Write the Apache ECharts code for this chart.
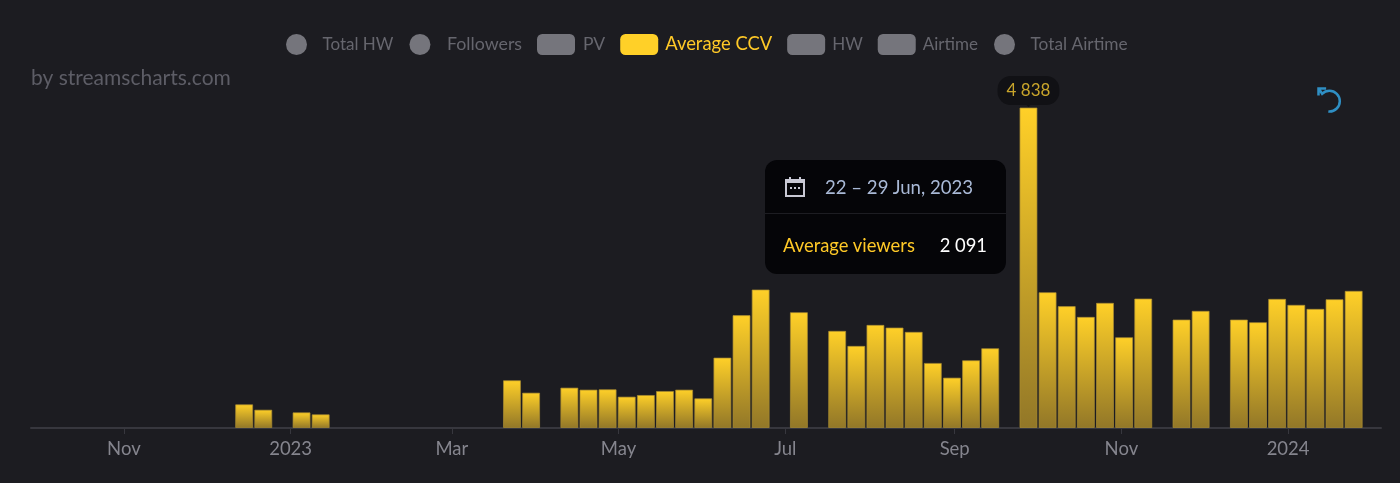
<!DOCTYPE html>
<html>
<head>
<meta charset="utf-8">
<title>Average CCV</title>
<script src="https://cdn.jsdelivr.net/npm/echarts@6/dist/echarts.min.js"></script>
<style>
    html, body { margin: 0; padding: 0; background: #1c1c21; }
    #chart { width: 1400px; height: 483px; }
    .tip { width: 241px; height: 114px; font-family: Lato, sans-serif; }
    .tip-date { height: 53px; display: flex; align-items: center; padding-left: 20px; color: #a9b9d6; font-size: 18.6px; border-bottom: 1px solid #1d1d22; }
    .tip-date svg { margin-right: 20px; }
    .tip-date span, .tip-row span { position: relative; top: 1px; }
    .tip-row { height: 60px; display: flex; align-items: center; justify-content: space-between; padding: 0 19px 0 18px; font-size: 18.4px; }
    .tip-name { color: #ffc927; }
    .tip-value { color: #fff; }
</style>
</head>
<body>
<div id="chart"></div>
<script>
    // one bar per week, labelled by the day the week starts
    var weekStarts = [
        "2022-12-15", "2022-12-22", "2023-01-05", "2023-01-12", "2023-03-23", "2023-03-30",
        "2023-04-13", "2023-04-20", "2023-04-27", "2023-05-04", "2023-05-11", "2023-05-18",
        "2023-05-25", "2023-06-01", "2023-06-08", "2023-06-15", "2023-06-22", "2023-07-06",
        "2023-07-20", "2023-07-27", "2023-08-03", "2023-08-10", "2023-08-17", "2023-08-24",
        "2023-08-31", "2023-09-07", "2023-09-14", "2023-09-28", "2023-10-05", "2023-10-12",
        "2023-10-19", "2023-10-26", "2023-11-02", "2023-11-09", "2023-11-23", "2023-11-30",
        "2023-12-14", "2023-12-21", "2023-12-28", "2024-01-04", "2024-01-11", "2024-01-18",
        "2024-01-25"
    ];
    var averageCcv = [
        358, 277, 237, 207, 721, 534,
        610, 580, 585, 474, 499, 559,
        580, 449, 1063, 1704, 2091, 1749,
        1467, 1240, 1557, 1517, 1452, 983,
        761, 1023, 1205, 4838, 2051, 1840,
        1678, 1890, 1371, 1955, 1638, 1769,
        1638, 1598, 1950, 1860, 1799, 1945,
        2071
    ];
    var tickDates = ["2022-11-01", "2023-01-01", "2023-03-01", "2023-05-01", "2023-07-01", "2023-09-01", "2023-11-01", "2024-01-01"];
    var tickLabels = ["Nov", "2023", "Mar", "May", "Jul", "Sep", "Nov", "2024"];
    var monthNames = ["Jan", "Feb", "Mar", "Apr", "May", "Jun", "Jul", "Aug", "Sep", "Oct", "Nov", "Dec"];
    var tipWeek = "2023-06-22";

    var FONT = "Lato, sans-serif";
    var DAY = 86400000;

    function toTime(s) {
        var p = s.split("-");
        return Date.UTC(+p[0], +p[1] - 1, +p[2]);
    }

    function spaced(n) {
        return String(n).replace(/\B(?=(\d{3})+$)/g, " ");
    }

    function weekRange(t) {
        var a = new Date(t);
        var b = new Date(t + 7 * DAY);
        return a.getUTCDate() + " – " + b.getUTCDate() + " " + monthNames[b.getUTCMonth()] + ", " + b.getUTCFullYear();
    }

    var tickTimes = tickDates.map(toTime);
    var calendarIcon = '<svg width="20" height="20" viewBox="0 0 20 20"><path fill="#c9c9d4" d="M0 2h4V0h2v2h8V0h2v2h4v18H0z"/><rect x="2" y="6" width="16" height="12" fill="#050508"/><rect x="5" y="10" width="2" height="2" fill="#c9c9d4"/><rect x="9" y="10" width="2" height="2" fill="#c9c9d4"/><rect x="13" y="10" width="2" height="2" fill="#c9c9d4"/></svg>';

    function legendItem(name, icon, color, textColor, textGap, fontSize) {
        return {
            name: name,
            icon: icon,
            itemStyle: { color: color, borderWidth: 0 },
            textStyle: { color: textColor, fontSize: fontSize, padding: [0, 0, 0, textGap] }
        };
    }

    function emptySeries(name) {
        return { name: name, type: "line", data: [] };
    }

    var legendBase = {
        top: 29,
        itemWidth: 38,
        itemHeight: 21,
        textStyle: { fontFamily: FONT, fontSize: 18 },
        selectedMode: false
    };

    var myChart = echarts.init(document.getElementById("chart"));
    var option = {
        animation: false,
        backgroundColor: "#1c1c21",
        title: {
            text: "by streamscharts.com",
            left: 31 - 5,
            top: 63,
            textStyle: { color: "#5d5d66", fontFamily: FONT, fontSize: 21, fontWeight: "normal" }
        },
        legend: [
            Object.assign({}, legendBase, {
                left: 281,
                itemGap: 16,
                data: [
                    legendItem("Total HW", "circle", "#75757c", "#66666e", 2, 17),
                    legendItem("Followers", "circle", "#75757c", "#66666e", 3, 17.8)
                ]
            }),
            Object.assign({}, legendBase, {
                left: 532,
                itemGap: 15,
                data: [
                    legendItem("PV", "roundRect", "#75757c", "#66666e", 3, 17.5),
                    legendItem("Average CCV", "roundRect", "#ffd028", "#ffc927", 2, 18.4),
                    legendItem("HW", "roundRect", "#75757c", "#66666e", 2, 17),
                    legendItem("Airtime", "roundRect", "#75757c", "#66666e", 2, 17)
                ]
            }),
            Object.assign({}, legendBase, {
                left: 989,
                data: [legendItem("Total Airtime", "circle", "#75757c", "#66666e", 2, 17.3)]
            })
        ],
        toolbox: {
            left: 1301,
            top: 71,
            itemSize: 23,
            feature: {
                restore: {
                    title: "",
                    icon: "path://M1 8 V1.5 H8 M1.5 2 L4.3 6.3 A9.5 9.5 0 1 1 10 22.5"
                }
            },
            iconStyle: { color: "none", borderColor: "#2f8fc4", borderWidth: 2.5 },
            emphasis: { iconStyle: { color: "none", borderColor: "#2f8fc4", textFill: "none" } }
        },
        tooltip: {
            trigger: "item",
            alwaysShowContent: true,
            transitionDuration: 0,
            padding: 0,
            borderWidth: 0,
            backgroundColor: "#050508",
            extraCssText: "border-radius:12px;box-shadow:none;",
            position: [765, 160],
            formatter: function (p) {
                return '<div class="tip"><div class="tip-date">' + calendarIcon + '<span>' + weekRange(p.value[0]) + '</span></div>' +
                    '<div class="tip-row"><span class="tip-name">Average viewers</span>' +
                    '<span class="tip-value">' + spaced(p.value[1]) + '</span></div></div>';
            }
        },
        grid: { left: 31, right: 19, top: 107.5, bottom: 55 },
        xAxis: {
            // plain value axis over UTC timestamps, custom ticks crash on a time axis
            type: "value",
            min: toTime("2022-09-28"),
            max: toTime("2024-02-04"),
            splitLine: { show: false },
            axisLine: { show: true, lineStyle: { color: "#37373e", width: 2 } },
            axisTick: { show: true, customValues: tickTimes, length: 6, lineStyle: { color: "#37373e", width: 1 } },
            axisLabel: {
                customValues: tickTimes,
                color: "#85858e",
                fontFamily: FONT,
                fontSize: 18.5,
                margin: 12,
                formatter: function (value) {
                    return tickLabels[tickTimes.indexOf(value)];
                }
            }
        },
        yAxis: {
            type: "value",
            min: 0,
            max: 4838,
            show: false
        },
        series: [{
            name: "Average CCV",
            type: "bar",
            barWidth: 18,
            data: weekStarts.map(function (d, i) {
                return [toTime(d), averageCcv[i]];
            }),
            itemStyle: {
                color: new echarts.graphic.LinearGradient(0, 0, 0, 1, [
                    { offset: 0, color: "#ffd028" },
                    { offset: 1, color: "#927728" }
                ]),
                borderColor: "rgba(170,140,50,0.7)",
                borderWidth: 1
            },
            emphasis: { disabled: true },
            markPoint: {
                silent: true,
                data: [{ type: "max" }],
                symbol: "triangle",
                symbolRotate: 180,
                symbolSize: [9, 5],
                symbolOffset: [0, -3],
                itemStyle: { color: "#111115" },
                label: {
                    position: "top",
                    distance: 0,
                    offset: [0, 3],
                    color: "#c9a52b",
                    fontFamily: FONT,
                    fontSize: 17,
                    backgroundColor: "#111115",
                    borderRadius: 13,
                    padding: [6, 9, 6, 9],
                    formatter: function (p) {
                        return spaced(p.value);
                    }
                }
            }
        },
            emptySeries("Total HW"),
            emptySeries("Followers"),
            emptySeries("PV"),
            emptySeries("HW"),
            emptySeries("Airtime"),
            emptySeries("Total Airtime")
        ]
    };
    myChart.setOption(option);
    myChart.dispatchAction({ type: "showTip", seriesIndex: 0, dataIndex: weekStarts.indexOf(tipWeek) });
</script>
</body>
</html>
